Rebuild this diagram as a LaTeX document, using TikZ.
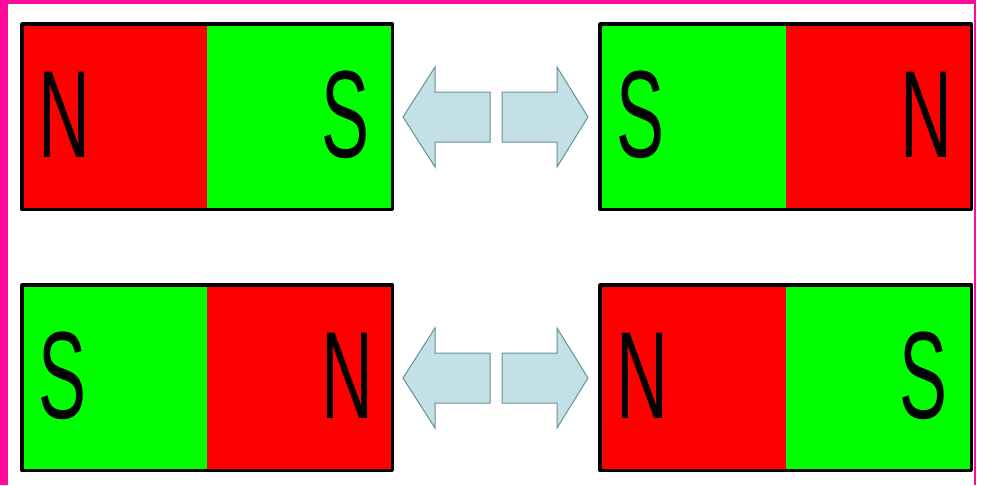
\documentclass[tikz,border=0pt]{standalone}
\usepackage{fontspec}
\usepackage{graphicx}
\setmainfont{Liberation Sans}
\definecolor{poleN}{HTML}{FF0000}
\definecolor{poleS}{HTML}{00FF00}
\definecolor{frame}{HTML}{FF0A9B}
\definecolor{arrowfill}{HTML}{C2E0E6}
\definecolor{arrowedge}{HTML}{6E8E95}
\begin{document}
\begin{tikzpicture}[x=1pt,y=-1pt,
  half/.style={rectangle,inner sep=0pt,minimum width=185pt,minimum height=185pt,anchor=north west},
  lefthalf/.style={half,minimum width=187pt},
  outline/.style={draw=black,line width=3.5pt,line join=round},
  pole/.style={inner sep=0pt,anchor=base,font=\fontsize{124}{124}\selectfont},
  blockarrow/.style={fill=arrowfill,draw=arrowedge,line width=1pt,line join=miter}]
% canvas and frame
\useasboundingbox (0,0) rectangle (981,485);
\fill[white] (0,0) rectangle (981,485);
\fill[frame] (0,0) rectangle (8,485);
\fill[frame] (0,0) rectangle (976,4);
\fill[frame] (974,0) rectangle (976,485);

\newcommand{\letter}[1]{\scalebox{0.58}[1]{#1}}

% magnet top left
\node[lefthalf,fill=poleN] (tlN) at (22,24) {};
\node[half,fill=poleS] (tlS) at (207,24) {};
\draw[outline] (tlN.north west) rectangle (tlS.south east);
\node[pole] (tlNl) at (64,157) {\letter{N}};
\node[pole] (tlSl) at (345,157) {\letter{S}};

% magnet top right
\node[lefthalf,fill=poleS] (trS) at (600,24) {};
\node[half,fill=poleN] (trN) at (786,24) {};
\draw[outline] (trS.north west) rectangle (trN.south east);
\node[pole] (trSl) at (640,157) {\letter{S}};
\node[pole] (trNl) at (926,157) {\letter{N}};

% magnet bottom left
\node[lefthalf,fill=poleS] (blS) at (22,285) {};
\node[half,fill=poleN] (blN) at (207,285) {};
\draw[outline] (blS.north west) rectangle (blN.south east);
\node[pole] (blSl) at (62,418) {\letter{S}};
\node[pole] (blNl) at (347,418) {\letter{N}};

% magnet bottom right
\node[lefthalf,fill=poleN] (brN) at (600,285) {};
\node[half,fill=poleS] (brS) at (786,285) {};
\draw[outline] (brN.north west) rectangle (brS.south east);
\node[pole] (brNl) at (642,418) {\letter{N}};
\node[pole] (brSl) at (923,418) {\letter{S}};

% block arrows between the magnets
\foreach \cy in {117,378} {
  \draw[blockarrow] (403,\cy) -- (435,\cy-50) -- (435,\cy-25) -- (490,\cy-25)
        -- (490,\cy+25) -- (435,\cy+25) -- (435,\cy+50) -- cycle;
  \draw[blockarrow] (588,\cy) -- (557,\cy-50) -- (557,\cy-25) -- (502,\cy-25)
        -- (502,\cy+25) -- (557,\cy+25) -- (557,\cy+50) -- cycle;
}
\end{tikzpicture}
\end{document}
